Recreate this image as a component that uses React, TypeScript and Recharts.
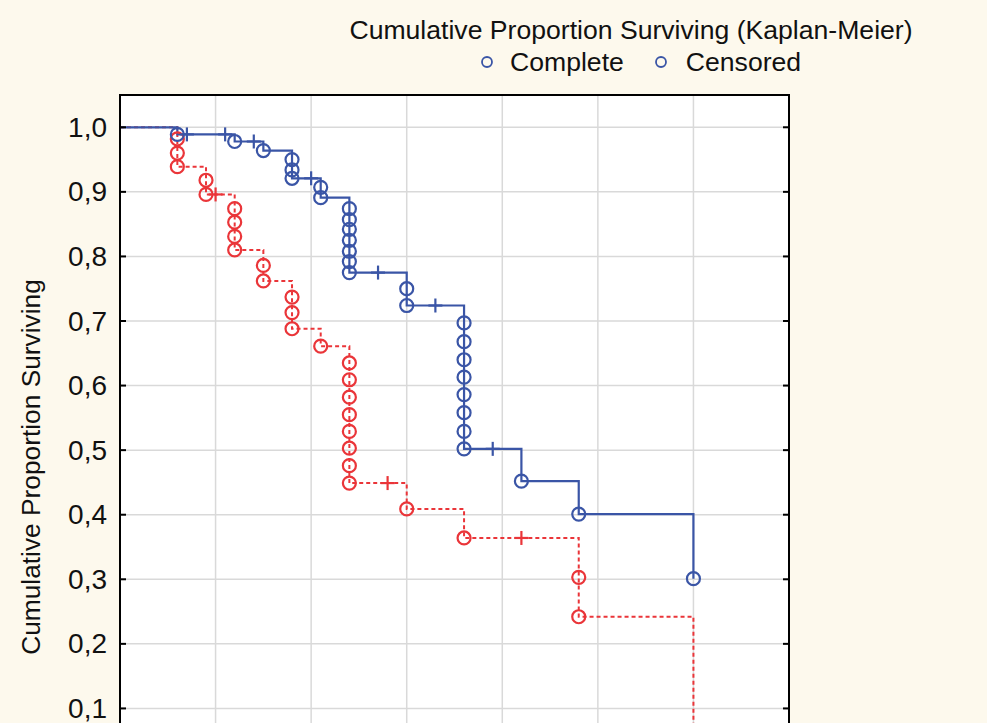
import React from "react";
import { ComposedChart, Line, XAxis, YAxis, CartesianGrid, ReferenceArea } from "recharts";

const BLUE = "#3a55a6";
const RED = "#ea3539";
const FONT = "'Liberation Sans', Arial, Helvetica, sans-serif";

// s = start, d = complete (event), c = censored
const completeTimes = [0, 6, 7, 11, 12, 14, 15, 18, 18, 18, 20, 21, 21, 24, 24, 24, 24, 24, 24, 24, 27, 30, 30, 33, 36, 36, 36, 36, 36, 36, 36, 36, 39, 42, 48, 60];
const completeSurv = [1, 0.989, 0.989, 0.989, 0.978, 0.978, 0.964, 0.95, 0.934, 0.921, 0.921, 0.907, 0.891, 0.874, 0.857, 0.842, 0.825, 0.808, 0.792, 0.775, 0.775, 0.75, 0.724, 0.724, 0.697, 0.668, 0.64, 0.613, 0.586, 0.558, 0.529, 0.502, 0.502, 0.452, 0.401, 0.301];
const completeKind = ["s", "d", "c", "c", "d", "c", "d", "d", "d", "d", "c", "d", "d", "d", "d", "d", "d", "d", "d", "d", "c", "d", "d", "c", "d", "d", "d", "d", "d", "d", "d", "d", "c", "d", "d", "d"];

const censoredTimes = [0, 6, 6, 6, 9, 9, 10, 12, 12, 12, 12, 15, 15, 18, 18, 18, 21, 24, 24, 24, 24, 24, 24, 24, 24, 28, 30, 36, 42, 48, 48, 60];
const censoredSurv = [1, 0.982, 0.96, 0.939, 0.918, 0.896, 0.896, 0.874, 0.853, 0.831, 0.81, 0.786, 0.762, 0.737, 0.713, 0.688, 0.661, 0.635, 0.609, 0.582, 0.555, 0.529, 0.503, 0.476, 0.449, 0.449, 0.409, 0.364, 0.364, 0.303, 0.242, 0];
const censoredKind = ["s", "d", "d", "d", "d", "d", "c", "d", "d", "d", "d", "d", "d", "d", "d", "d", "d", "d", "d", "d", "d", "d", "d", "d", "d", "c", "d", "d", "c", "d", "d", "d"];

const xTicks = [0, 10, 20, 30, 40, 50, 60, 70];
const yTicks = [0.1, 0.2, 0.3, 0.4, 0.5, 0.6, 0.7, 0.8, 0.9, 1.0];

const completeData = completeTimes.map((t, i) => ({ t, s: completeSurv[i], k: completeKind[i] }));
const censoredData = censoredTimes.map((t, i) => ({ t, s: censoredSurv[i], k: censoredKind[i] }));

const fmt = (v: number) => v.toFixed(1).replace(".", ",");

const marker = (color: string) => (props: any) => {
  const { cx, cy, payload, index } = props;
  if (payload.k === "d") {
    return <circle key={`m-${index}`} cx={cx} cy={cy} r={6.5} fill="none" stroke={color} strokeWidth={2.2} />;
  }
  if (payload.k === "c") {
    return (
      <g key={`m-${index}`} stroke={color} strokeWidth={2.2}>
        <line x1={cx} x2={cx} y1={cy - 7} y2={cy + 7} />
        <line x1={cx - 7} x2={cx + 7} y1={cy} y2={cy} />
      </g>
    );
  }
  return <g key={`m-${index}`} />;
};

// left tick: label plus a short inward tick on the axis
const LeftTick = (props: any) => {
  const { x, y, payload } = props;
  const ax = x + 13;
  return (
    <g>
      <line x1={ax} x2={ax + 6} y1={y} y2={y} stroke="#000" strokeWidth={2} />
      <text x={x} y={y} textAnchor="end" dominantBaseline="central" fontSize={28} fill="#111">
        {fmt(payload.value)}
      </text>
    </g>
  );
};

// right tick: short inward tick only
const RightTick = (props: any) => {
  const { x, y } = props;
  return <line x1={x - 6} x2={x} y1={y} y2={y} stroke="#000" strokeWidth={2} />;
};

// x labels fall below the visible page, so nothing is drawn for them
const NoTick = () => <g />;

const yLabel = (props: any) => {
  const vb = props.viewBox;
  const x = vb.x + 31;
  const y = vb.y + vb.height / 2 + 33;
  return (
    <text x={x} y={y} transform={`rotate(-90 ${x} ${y})`} textAnchor="middle" dominantBaseline="central" fontSize={26.3} fill="#111">
      Cumulative Proportion Surviving
    </text>
  );
};

const LegendCircle = () => (
  <svg width={20} height={20} style={{ display: "block" }}>
    <circle cx={10} cy={10} r={5} fill="none" stroke={BLUE} strokeWidth={1.8} />
  </svg>
);

export default function App() {
  return (
    <div style={{ position: "absolute", left: 0, top: 0, width: 987, height: 723, overflow: "hidden", background: "#fdf9ed", fontFamily: FONT }}>
      <div style={{ position: "absolute", left: 631, top: 15, transform: "translateX(-50%)", fontSize: 26.6, lineHeight: "30px", whiteSpace: "nowrap", color: "#111" }}>
        Cumulative Proportion Surviving (Kaplan-Meier)
      </div>
      <div style={{ position: "absolute", left: 477, top: 47, display: "flex", alignItems: "center", fontSize: 26.6, lineHeight: "30px", whiteSpace: "nowrap", color: "#111" }}>
        <LegendCircle />
        <span style={{ marginLeft: 13 }}>Complete</span>
        <span style={{ marginLeft: 27 }}><LegendCircle /></span>
        <span style={{ marginLeft: 15 }}>Censored</span>
      </div>
      <ComposedChart width={987} height={830} margin={{ top: 95, right: 198, bottom: 27, left: 0 }} style={{ position: "absolute", left: 0, top: 0 }}>
        <CartesianGrid xAxisId="b" yAxisId="l" fill="#ffffff" stroke="#d9d9d9" strokeWidth={1.5} />
        <XAxis xAxisId="b" dataKey="t" type="number" domain={[0, 70]} ticks={xTicks} axisLine={{ stroke: "#000", strokeWidth: 2 }} tickLine={{ stroke: "#000", strokeWidth: 2 }} tick={<NoTick />} allowDataOverflow />
        <YAxis yAxisId="l" type="number" domain={[0, 1.05]} ticks={yTicks} width={120} tickLine={false} tickSize={0} tickMargin={13} axisLine={{ stroke: "#000", strokeWidth: 2 }} tick={<LeftTick />} allowDataOverflow label={{ content: yLabel }} />
        <YAxis yAxisId="r" orientation="right" mirror width={1} type="number" domain={[0, 1.05]} ticks={yTicks} tick={<RightTick />} tickLine={false} tickSize={0} tickMargin={0} axisLine={false} allowDataOverflow />
        <ReferenceArea xAxisId="b" yAxisId="l" x1={0} x2={70} y1={0} y2={1.05} fill="none" stroke="#000" strokeWidth={2} ifOverflow="visible" />
        <Line xAxisId="b" yAxisId="l" data={censoredData} dataKey="s" type="stepAfter" stroke={RED} strokeWidth={2} strokeDasharray="4 3" dot={marker(RED)} activeDot={false} isAnimationActive={false} />
        <Line xAxisId="b" yAxisId="l" data={completeData} dataKey="s" type="stepAfter" stroke={BLUE} strokeWidth={2.2} dot={marker(BLUE)} activeDot={false} isAnimationActive={false} />
      </ComposedChart>
    </div>
  );
}
